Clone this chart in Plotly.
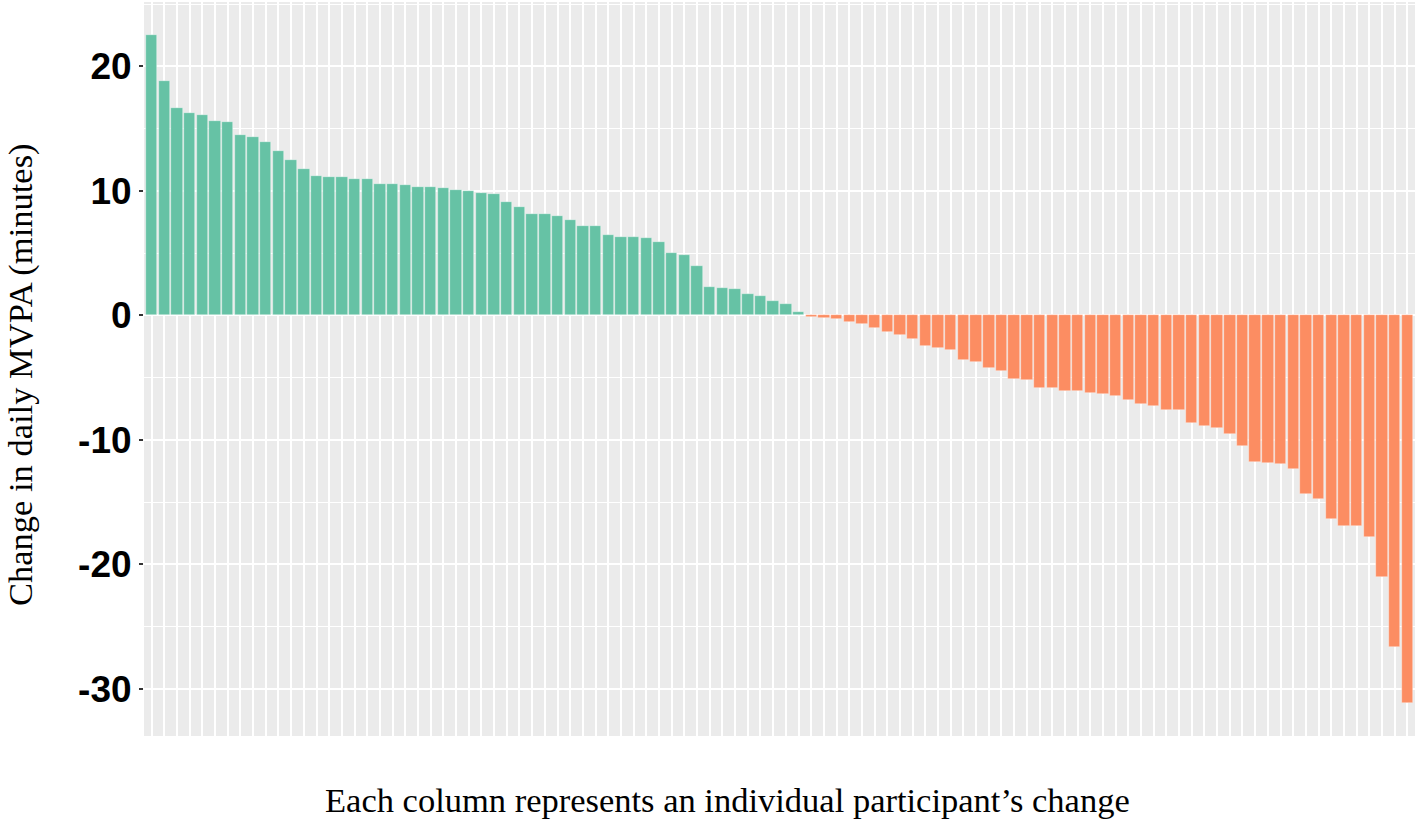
import plotly.graph_objects as go

participants = list(range(1, 101))
change_mvpa = [
    22.5, 18.8, 16.7, 16.25, 16.1, 15.66, 15.55, 14.46, 14.35, 13.9,
    13.2, 12.5, 11.8, 11.24, 11.1, 11.1, 11.0, 10.95, 10.6, 10.55,
    10.47, 10.34, 10.33, 10.25, 10.1, 9.96, 9.85, 9.72, 9.1, 8.75,
    8.17, 8.14, 8.03, 7.63, 7.17, 7.17, 6.45, 6.32, 6.32, 6.24,
    5.92, 5.0, 4.82, 3.96, 2.3, 2.2, 2.1, 1.69, 1.6, 1.18,
    0.91, 0.24, -0.13, -0.2, -0.27, -0.53, -0.7, -0.99, -1.34, -1.53,
    -1.85, -2.44, -2.62, -2.76, -3.59, -3.72, -4.18, -4.5, -5.09, -5.2,
    -5.86, -5.86, -6.08, -6.08, -6.19, -6.3, -6.46, -6.78, -7.15, -7.26,
    -7.58, -7.6, -8.67, -8.89, -9.02, -9.5, -10.5, -11.78, -11.83, -11.9,
    -12.35, -14.33, -14.78, -16.33, -16.92, -16.95, -17.8, -20.99, -26.66, -31.1,
]
y_ticks = [-30, -20, -10, 0, 10, 20]
y_tick_labels = ["-30", "-20", "-10", "0", "10", "20"]

GREEN = "#66C2A5"
ORANGE = "#FC8D62"
colors = [GREEN if v > 0 else ORANGE for v in change_mvpa]

lo, hi = min(change_mvpa), max(change_mvpa)
pad = 0.05 * (hi - lo)

fig = go.Figure()
fig.add_trace(go.Bar(
    x=participants, y=change_mvpa, width=0.9,
    marker=dict(color=colors, line=dict(color="rgba(255,255,255,0.6)", width=0.6)),
    showlegend=False, hoverinfo="x+y",
))

W, H = 1418, 820
L, R, T, B = 144, 3, 2, 84
fig.update_layout(
    width=W, height=H,
    margin=dict(l=L, r=R, t=T, b=B, pad=0, autoexpand=False),
    paper_bgcolor="white", plot_bgcolor="#EBEBEB",
    bargap=0,
    xaxis=dict(
        range=[0.4, len(participants) + 0.6],
        tickmode="linear", tick0=1, dtick=1,
        showticklabels=False, ticks="",
        showgrid=True, gridcolor="white", gridwidth=2.2,
        zeroline=False, showline=False, automargin=False,
    ),
    yaxis=dict(
        range=[lo - pad, hi + pad],
        tickmode="array", tickvals=y_ticks, ticktext=y_tick_labels,
        ticks="outside", ticklen=4, tickwidth=1.5, tickcolor="#333333",
        tickfont=dict(family="Liberation Sans", size=37, color="black", weight="bold"),
        showgrid=True, gridcolor="white", gridwidth=2.2,
        minor=dict(dtick=5, tick0=0, showgrid=True, gridcolor="white", gridwidth=1.1, ticks=""),
        zeroline=False, showline=False, automargin=False,
    ),
)

pw = W - L - R
ph = H - T - B
fig.add_annotation(
    text="Each column represents an individual participant\u2019s change",
    xref="paper", yref="paper",
    x=(727 - L) / pw, y=-(800 - (H - B)) / ph,
    xanchor="center", yanchor="middle", showarrow=False,
    font=dict(family="Liberation Serif", size=34.5, color="black"),
)
fig.add_annotation(
    text="Change in daily MVPA (minutes)",
    xref="paper", yref="paper",
    x=(20 - L) / pw, y=((H - B) - 375) / ph,
    xanchor="center", yanchor="middle", showarrow=False, textangle=-90,
    font=dict(family="Liberation Serif", size=34.5, color="black"),
)

fig.write_html(
    "out.html",
    config={"displayModeBar": False},
    post_script="document.body.style.margin='0px';document.body.style.overflow='hidden';",
)
